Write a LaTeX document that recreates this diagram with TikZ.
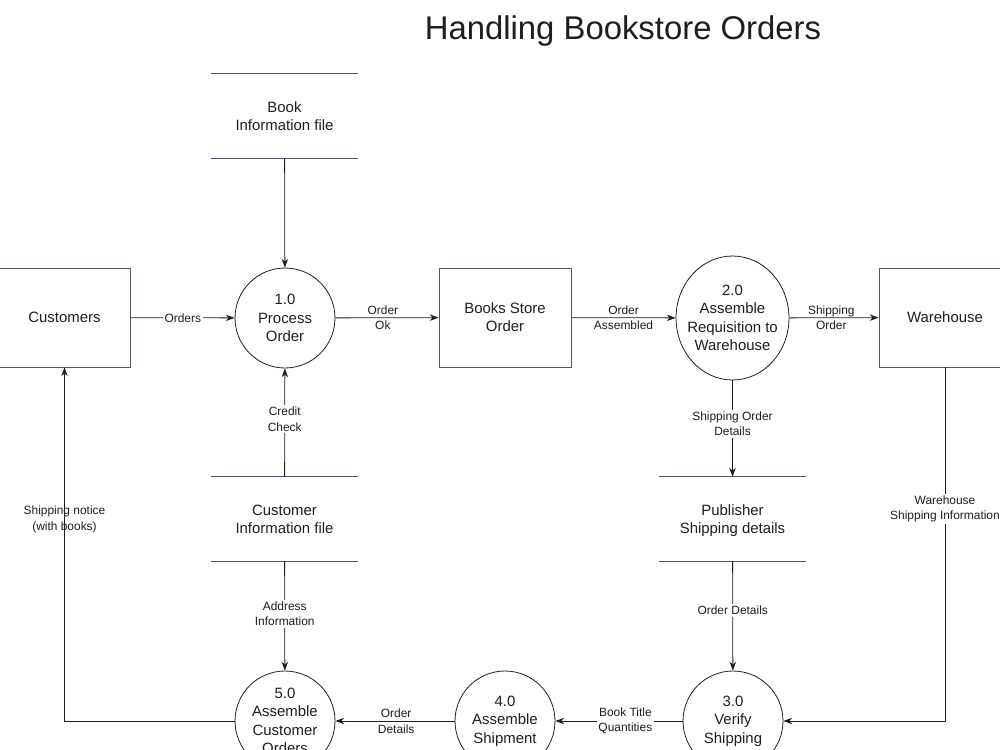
\documentclass[tikz,border=0pt]{standalone}
\usepackage{fontspec}
\setmainfont{Liberation Sans}
\usetikzlibrary{arrows.meta,shapes.geometric}
\definecolor{boxline}{HTML}{50586A}
\definecolor{txt}{HTML}{1E1E1E}
\tikzset{
  every node/.style={text=txt},
  ent/.style={draw=boxline,line width=0.5pt,minimum width=2.64cm,minimum height=1.98cm,
    font=\fontsize{8.5}{10.3}\selectfont,align=center,inner sep=0pt},
  proc/.style={draw=txt,line width=0.45pt,circle,minimum size=2cm,inner sep=0pt,
    font=\fontsize{8.5}{10.5}\selectfont,align=center},
  proce/.style={draw=txt,line width=0.45pt,ellipse,minimum width=2.26cm,minimum height=2.48cm,inner sep=0pt},
  ptext/.style={font=\fontsize{8.5}{10.5}\selectfont,align=center,inner sep=0pt},
  store/.style={minimum width=2.94cm,minimum height=1.68cm,inner sep=0pt,
    font=\fontsize{8.5}{10.3}\selectfont,align=center},
  storeline/.style={draw=boxline,line width=0.5pt},
  flow/.style={draw=txt,line width=0.45pt,-{Stealth[length=5pt,width=3.6pt]}},
  lbl/.style={font=\fontsize{6.8}{8.8}\selectfont,align=center,inner sep=1pt},
  lblw/.style={lbl,fill=white}
}
\begin{document}
\begin{tikzpicture}[x=0.02cm,y=-0.02cm]
\useasboundingbox (0,0) rectangle (1000,750);
\fill[white] (0,0) rectangle (1000,750);
\node[font=\fontsize{18.7}{22}\selectfont] (title) at (623,31) {Handling Bookstore Orders};

% external entities
\node[ent] (cust) at (64.5,317.5) {Customers};
\node[ent] (bso) at (505,317.5) {Books Store\\Order};
\node[ent] (wh) at (945,317.5) {Warehouse};

% processes
\node[proc] (p1) at (285,318) {1.0\\Process\\Order};
\node[proce] (p2) at (732.5,318) {};
\node[ptext] (p2t) at (p2.center) {2.0\\Assemble\\Requisition to\\Warehouse};
\node[proc] (p3) at (733,721) {3.0\\Verify\\Shipping};
\node[proc] (p4) at (505,721) {4.0\\Assemble\\Shipment};
\node[proc] (p5) at (285,721) {5.0\\Assemble\\Customer\\Orders};

% data stores
\node[store] (bif) at (284.5,116) {Book\\Information file};
\node[store] (cif) at (284.5,519) {Customer\\Information file};
\node[store] (pub) at (732.5,519) {};
\node[font=\fontsize{8.5}{10.3}\selectfont,align=center,inner sep=0pt] (pubt) at (732.5,521) {Publisher\\Shipping details};
\foreach \s in {bif,cif,pub}{
  \draw[storeline] (\s.north west) -- (\s.north east);
  \draw[storeline] (\s.south west) -- (\s.south east);
}

% flows
\draw[flow] (cust) -- node[lblw] {Orders} (p1);
\draw[flow] (p1) -- node[lbl,pos=0.46] {Order\\Ok} (bso);
\draw[flow] (bso) -- node[lbl] {Order\\Assembled} (p2);
\draw[flow] (p2) -- node[lbl,pos=0.47] {Shipping\\Order} (wh);
\draw[flow] (bif) -- (p1);
\draw[flow] (cif) -- node[lblw,pos=0.53] {Credit\\Check} (p1);
\draw[flow] (p2) -- node[lblw,pos=0.45] {Shipping Order\\Details} (pub);
\draw[flow] (cif) -- node[lblw,pos=0.48] {Address\\Information} (p5);
\draw[flow] (pub) -- node[lblw,pos=0.45] {Order Details} (p3);
\coordinate (whc) at (945,721);
\draw[flow] (wh) -- node[lblw,pos=0.4] {Warehouse\\Shipping Information} (whc) -- (p3);
\draw[flow] (p3) -- node[lblw,pos=0.45] {Book Title\\Quantities} (p4);
\draw[flow] (p4) -- node[lbl,pos=0.49] {Order\\Details} (p5);
\coordinate (cc) at (64.5,721);
\draw[flow] (p5) -- (cc) -- node[lbl,pos=0.57] {Shipping notice\\(with books)} (cust);
\end{tikzpicture}
\end{document}
